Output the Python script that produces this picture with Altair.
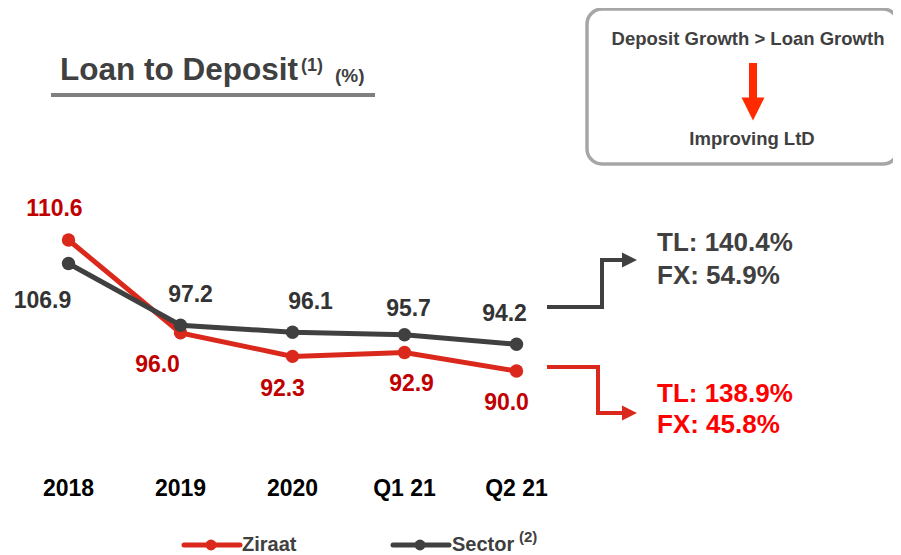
import altair as alt
import pandas as pd

# ---- data ----
periods = ["2018", "2019", "2020", "Q1 21", "Q2 21"]
ziraat = [110.6, 96.0, 92.3, 92.9, 90.0]
sector = [106.9, 97.2, 96.1, 95.7, 94.2]
ziraat_breakdown = ["TL: 138.9%", "FX: 45.8%"]
sector_breakdown = ["TL: 140.4%", "FX: 54.9%"]

RED = "#DA291C"
DARK = "#404040"
RED_LBL = "#C00000"
DARK_LBL = "#333333"
FONT = "Liberation Sans"

W, H = 885, 547
O = 8  # page margin offset


def mk_df(vals, name):
    d = pd.DataFrame({"period": periods, "value": vals})
    d["series"] = name
    d["label"] = d["value"].map(lambda v: f"{v:.1f}")
    return d


zdf = mk_df(ziraat, "Ziraat")
sdf = mk_df(sector, "Sector")
one = pd.DataFrame({"a": [0]})

xs = alt.Scale(domain=periods, range=[68.5 - O, 516.5 - O], padding=0)
ys = alt.Scale(domain=[90, 110.6], range=[371 - O, 240 - O], zero=False, nice=False)
X = alt.X("period:N", sort=periods, scale=xs, axis=None)
Y = alt.Y("value:Q", scale=ys, axis=None)

# label offsets (style): (dx, dy) per period
z_off = [(-14, -31), (-23, 32), (-10, 33), (7, 31), (-10, 32)]
s_off = [(-26, 37), (10, -30), (18, -30), (4, -26), (-12, -30)]


def series_layers(d, color, lblcolor, offs):
    base = alt.Chart(d)
    line = base.mark_line(color=color, strokeWidth=5).encode(x=X, y=Y)
    pts = base.mark_circle(color=color, size=180, opacity=1).encode(x=X, y=Y)
    lbls = []
    for p, (dx, dy) in zip(periods, offs):
        lbls.append(
            base.transform_filter(alt.datum.period == p)
            .mark_text(font=FONT, fontSize=23, fontWeight="bold", color=lblcolor,
                       align="center", baseline="middle", dx=dx, dy=dy)
            .encode(x=X, y=Y, text="label:N")
        )
    return [line, pts], lbls


def txt(s, x, y, size, color, align="left"):
    return alt.Chart(one).mark_text(
        text=s, font=FONT, fontSize=size, fontWeight="bold", color=color,
        align=align, baseline="middle"
    ).encode(x=alt.value(x - O), y=alt.value(y - O))


def hrule(x1, x2, y, color, w, cap="square"):
    return alt.Chart(one).mark_rule(color=color, strokeWidth=w, strokeCap=cap).encode(
        x=alt.value(x1 - O), x2=alt.value(x2 - O), y=alt.value(y - O))


def vrule(x, y1, y2, color, w, cap="square"):
    return alt.Chart(one).mark_rule(color=color, strokeWidth=w, strokeCap=cap).encode(
        x=alt.value(x - O), y=alt.value(y1 - O), y2=alt.value(y2 - O))


def tri(shape, x, y, size, color):
    return alt.Chart(one).mark_point(shape=shape, filled=True, size=size, color=color,
                                     opacity=1, strokeWidth=0).encode(
        x=alt.value(x - O), y=alt.value(y - O))


# decorations
box = alt.Chart(one).mark_rect(cornerRadius=15, fill="white", stroke="#A6A6A6",
                               strokeWidth=3.5).encode(
    x=alt.value(587 - O), x2=alt.value(898 - O), y=alt.value(9 - O), y2=alt.value(164 - O))

deco = [
    box,
    txt("Deposit Growth > Loan Growth", 748, 39, 18.5, DARK, "center"),
    vrule(753, 63, 100, "#FF2A00", 8, "butt"),
    tri("M-1,-1L1,-1L0,1Z", 753, 109, 529, "#FF2A00"),
    txt("Improving LtD", 752, 139, 18.5, DARK, "center"),
    txt("Loan to Deposit", 60, 71, 31.5, DARK),
    txt("(1)", 301, 66, 18, DARK),
    txt("(%)", 335, 76, 19, DARK),
    hrule(51, 375, 95, "#7F7F7F", 4, "butt"),
    # sector connector
    hrule(549, 602, 307, DARK, 4),
    vrule(602, 307, 260, DARK, 4),
    hrule(602, 623, 260, DARK, 4),
    tri("M-1,-1L1,0L-1,1Z", 629.5, 260, 225, DARK),
    # ziraat connector
    hrule(549, 598, 367, RED, 4),
    vrule(598, 367, 413, RED, 4),
    hrule(598, 623, 413, RED, 4),
    tri("M-1,-1L1,0L-1,1Z", 629.5, 413, 225, RED),
    txt(sector_breakdown[0], 657, 243, 26, DARK),
    txt(sector_breakdown[1], 657, 276, 26, DARK),
    txt(ziraat_breakdown[0], 657, 394, 26, "#FF0000"),
    txt(ziraat_breakdown[1], 657, 425, 26, "#FF0000"),
    # legend
    hrule(184, 240, 545, RED, 5, "round"),
    tri("circle", 211, 545, 120, RED),
    txt("Ziraat", 242, 545, 20, DARK),
    hrule(393, 449, 545, DARK, 5, "round"),
    tri("circle", 420, 545, 120, DARK),
    txt("Sector", 452, 545, 20, DARK),
    txt("(2)", 519, 537, 15, DARK),
]

# x category labels
xlabels = alt.Chart(zdf).mark_text(font=FONT, fontSize=23, fontWeight="bold", color="#000000",
                                   align="center", baseline="middle").encode(
    x=X, y=alt.value(489 - O), text="period:N")

z_marks, z_lbls = series_layers(zdf, RED, RED_LBL, z_off)
s_marks, s_lbls = series_layers(sdf, DARK, DARK_LBL, s_off)

chart = alt.layer(
    *deco, xlabels, *z_marks, *s_marks, *z_lbls, *s_lbls
).properties(
    width=W, height=H, padding=0,
    autosize=alt.AutoSizeParams(type="none"),
    background="white",
).configure_view(stroke=None)

chart.save("out.html", embed_options={"renderer": "svg", "actions": False})
